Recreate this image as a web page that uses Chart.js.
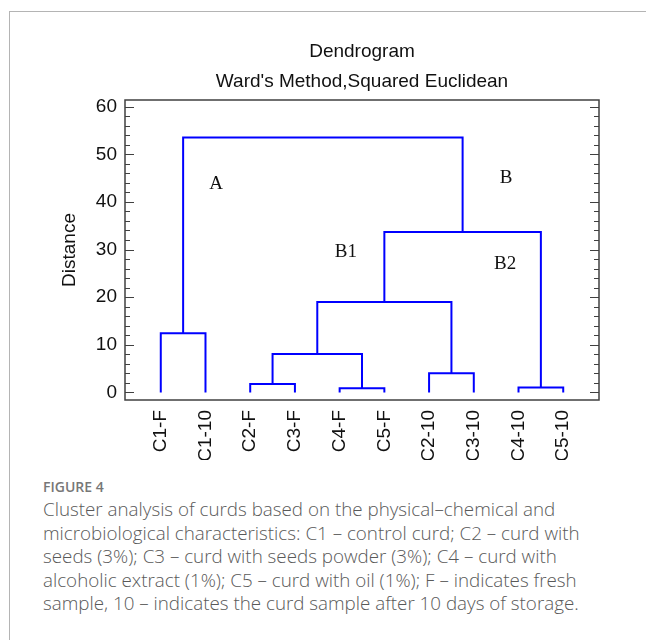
<!DOCTYPE html>
<html><head><meta charset="utf-8">
<script src="https://cdn.jsdelivr.net/npm/chart.js@4"></script>
<style>
html,body{margin:0;padding:0;background:#fff;}
body{width:646px;height:640px;position:relative;overflow:hidden;}
#frame{position:absolute;left:9px;top:11px;width:700px;height:700px;border-left:1px solid #b4b4b4;border-top:1px solid #b4b4b4;}
#wrap{position:absolute;left:0;top:0;width:646px;height:460px;}
#cap{position:absolute;left:43px;top:477px;font-family:"Open Sans";color:#595959;white-space:nowrap;}
.fig{font-weight:600;font-size:14px;color:#777;line-height:20px;letter-spacing:0;}
.txt{font-weight:300;font-size:18.8px;line-height:23.5px;margin-top:1px;}
</style></head>
<body>
<div id="frame"></div>
<div id="wrap"><canvas id="c" width="646" height="460"></canvas></div>
<div id="cap">
<div class="fig">FIGURE 4</div>
<div class="txt">Cluster analysis of curds based on the physical–chemical and<br>microbiological characteristics: C1 – control curd; C2 – curd with<br>seeds (3%); C3 – curd with seeds powder (3%); C4 – curd with<br>alcoholic extract (1%); C5 – curd with oil (1%); F – indicates fresh<br>sample, 10 – indicates the curd sample after 10 days of storage.</div>
</div>
<script>
const leafLabels = ['C1-F','C1-10','C2-F','C3-F','C4-F','C5-F','C2-10','C3-10','C4-10','C5-10'];
const mergeLeft   = [4, 8, 2, 6, 12, 0, 14, 16, 15];
const mergeRight  = [5, 9, 3, 7, 10, 1, 13, 11, 17];
const mergeHeight = [0.85, 1.05, 1.75, 4.0, 8.05, 12.4, 19.0, 33.7, 53.5];
const yMajorTicks = [0, 10, 20, 30, 40, 50, 60];
const clusterNames = ['A', 'B', 'B1', 'B2'];
const clusterX = [1.24, 7.72, 4.14, 7.70];
const clusterY = [43.7, 45.1, 29.5, 27.0];

const nodeX = leafLabels.map((_, i) => i);
const nodeY = leafLabels.map(() => 0);
const datasets = [];
mergeHeight.forEach((h, k) => {
  const l = mergeLeft[k], r = mergeRight[k];
  datasets.push({
    data: [{x: nodeX[l], y: nodeY[l]}, {x: nodeX[l], y: h}, {x: nodeX[r], y: h}, {x: nodeX[r], y: nodeY[r]}],
    showLine: true, borderColor: '#0000ff', borderWidth: 2, pointRadius: 0, tension: 0, fill: false
  });
  nodeX.push((nodeX[l] + nodeX[r]) / 2);
  nodeY.push(h);
});

const framePlugin = {
  id: 'frame',
  afterDatasetsDraw(chart) {
    const {ctx, chartArea: a, scales} = chart;
    const ys = scales.y, xs = scales.x;
    ctx.save();
    ctx.font = '19px "Liberation Serif", "Times New Roman", serif';
    ctx.fillStyle = '#111';
    ctx.textAlign = 'center';
    ctx.textBaseline = 'middle';
    clusterNames.forEach((n, i) => ctx.fillText(n, xs.getPixelForValue(clusterX[i]), ys.getPixelForValue(clusterY[i])));
    ctx.strokeStyle = '#404040';
    ctx.lineWidth = 1.5;
    ctx.strokeRect(a.left, a.top, a.right - a.left, a.bottom - a.top);
    ctx.lineWidth = 1.2;
    ys.ticks.forEach(t => {
      if (t.value % 2 !== 0) return;
      const y = Math.round(ys.getPixelForValue(t.value)) + 0.5;
      const len = yMajorTicks.includes(t.value) ? 9 : 5;
      ctx.beginPath();
      ctx.moveTo(a.left, y); ctx.lineTo(a.left + len, y);
      ctx.moveTo(a.right, y); ctx.lineTo(a.right - len, y);
      ctx.stroke();
    });
    ctx.restore();
  }
};

const axisFont = {family: '"Liberation Sans", Arial, sans-serif', size: 19};

new Chart(document.getElementById('c'), {
  type: 'scatter',
  data: {datasets},
  plugins: [framePlugin],
  options: {
    responsive: false,
    animation: false,
    devicePixelRatio: 1,
    layout: {padding: {left: 0, right: 47, top: 0, bottom: 0}},
    plugins: {
      legend: {display: false},
      tooltip: {enabled: false},
      title: {
        display: true,
        fullSize: false,
        text: ['Dendrogram', "Ward's Method,Squared Euclidean"],
        color: '#111',
        font: {family: '"Liberation Sans", Arial, sans-serif', size: 19, weight: 'normal', lineHeight: 30 / 19},
        padding: {top: 37, bottom: 3}
      }
    },
    scales: {
      x: {
        type: 'linear',
        min: -0.8,
        max: 9.8,
        afterBuildTicks: s => { s.ticks = leafLabels.map((_, i) => ({value: i})); },
        afterFit: s => { s.height = 60; },
        grid: {display: false, drawTicks: false},
        border: {display: false},
        ticks: {
          autoSkip: false,
          minRotation: 90,
          maxRotation: 90,
          crossAlign: 'center',
          padding: 10,
          color: '#111',
          font: axisFont,
          callback: v => leafLabels[v]
        }
      },
      y: {
        type: 'linear',
        min: -1.6,
        max: 61.4,
        afterFit: s => { s.width = 125; },
        grid: {display: false, drawTicks: false},
        border: {display: false},
        ticks: {
          stepSize: 2,
          includeBounds: false,
          autoSkip: false,
          padding: 8,
          color: '#111',
          font: axisFont,
          callback: v => yMajorTicks.includes(v) ? String(v) : ''
        },
        title: {
          display: true,
          text: 'Distance',
          color: '#111',
          font: axisFont,
          padding: {top: 58, bottom: 0}
        }
      }
    }
  }
});
</script>
</body></html>
